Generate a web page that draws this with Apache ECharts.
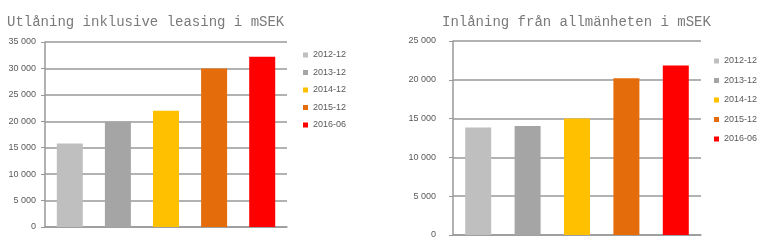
<!DOCTYPE html>
<html><head><meta charset="utf-8">
<script src="https://cdn.jsdelivr.net/npm/echarts@6/dist/echarts.min.js"></script>
<style>html,body{margin:0;padding:0;background:#fff}#c{width:762px;height:244px}</style>
</head><body><div id="c"></div>
<script>
const periods = ['2012-12','2013-12','2014-12','2015-12','2016-06'];
const lendingValues = [15800, 19900, 22000, 30000, 32200];
const depositValues = [13850, 14050, 15000, 20200, 21850];
const colors = ['#BFBFBF','#A5A5A5','#FFC000','#E46C0A','#FF0000'];
const titles = ['Utlåning inklusive leasing i mSEK','Inlåning från allmänheten i mSEK'];

const fmt = v => String(v).replace(/\B(?=(\d{3})+(?!\d))/g, ' ');
const chart = echarts.init(document.getElementById('c'));
const series = [];
periods.forEach((p,i)=>{
  series.push({name:p,type:'bar',xAxisIndex:0,yAxisIndex:0,data:[lendingValues[i]],
    barWidth:26,barGap:'85%',itemStyle:{color:colors[i]},emphasis:{disabled:true}});
});
periods.forEach((p,i)=>{
  series.push({name:p,type:'bar',xAxisIndex:1,yAxisIndex:1,data:[depositValues[i]],
    barWidth:26,barGap:'90%',itemStyle:{color:colors[i]},emphasis:{disabled:true}});
});
const yAx = (max, margin) => ({type:'value',min:0,max:max,interval:5000,
  axisLine:{show:true,lineStyle:{color:'#999',width:1.5}},
  axisTick:{show:true,length:4,lineStyle:{color:'#999'}},
  axisLabel:{fontSize:9,color:'#595959',margin:margin,fontFamily:'Liberation Sans',formatter:fmt},
  splitLine:{show:true,lineStyle:{color:'#999',width:1.5}}});
const xAx = i => ({type:'category',gridIndex:i,data:[''],
  axisLine:{show:true,lineStyle:{color:'#999',width:1.5}},axisTick:{show:false},axisLabel:{show:false}});
const tStyle = {fontFamily:'Liberation Mono',fontSize:14,fontWeight:'normal',color:'#7a7a7a'};
const lStyle = {fontSize:9,lineHeight:10,color:'#595959',fontFamily:'Liberation Sans'};
chart.setOption({
  animation:false,
  title:[
    {text:titles[0],left:7,top:15,padding:0,textStyle:tStyle},
    {text:titles[1],left:442,top:15,padding:0,textStyle:tStyle}
  ],
  grid:[{left:45,top:42,width:242,height:185},{left:453,top:41,width:248,height:194}],
  xAxis:[xAx(0),xAx(1)],
  yAxis:[Object.assign({gridIndex:0},yAx(35000,9)),Object.assign({gridIndex:1},yAx(25000,17))],
  legend:[
    {data:periods,orient:'vertical',left:303,top:50,padding:0,itemWidth:5,itemHeight:5,itemGap:7.5,icon:'rect',
     selectedMode:false,textStyle:lStyle},
    {data:periods,orient:'vertical',left:714,top:56,padding:0,itemWidth:5,itemHeight:5,itemGap:9.5,icon:'rect',
     selectedMode:false,textStyle:lStyle}
  ],
  series:series
});
</script></body></html>
